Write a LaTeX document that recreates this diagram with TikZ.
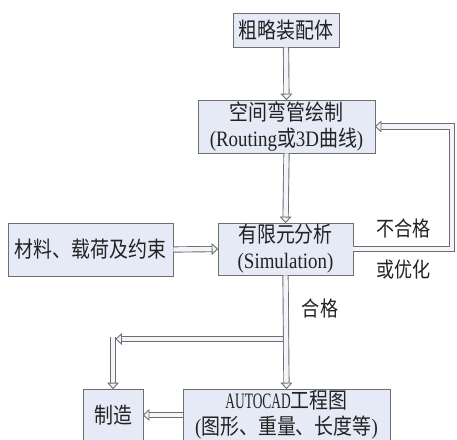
\documentclass[tikz,border=0pt]{standalone}
\usepackage{fontspec}
\setmainfont[FakeStretch=0.86]{Liberation Serif}
\newfontfamily\cjk[FakeStretch=0.86]{Noto Sans CJK SC}
\usetikzlibrary{calc}
\definecolor{boxfill}{HTML}{E6EAF7}
\definecolor{boxline}{HTML}{6E6E6E}
\definecolor{arrfill}{HTML}{F3F5FB}
\definecolor{txt}{HTML}{222222}
\tikzset{
  box/.style={draw=boxline, fill=boxfill, line width=0.9pt, text=txt,
    font=\fontsize{22}{26}\selectfont, align=center, inner sep=0pt},
  shaft/.style={draw=boxline, line width=0.9pt, double=arrfill,
    double distance=4.4pt, line join=miter, shorten >=5pt},
  headst/.style={draw=boxline, fill=arrfill, line width=0.9pt, line join=miter},
  lab/.style={text=txt, font=\fontsize{21}{24}\selectfont\cjk, inner sep=0pt}
}
\newcommand\hhead[2]{%
  \coordinate (hb) at ($(#1)!5.5pt!(#2)$);
  \draw[headst] (#1) -- ($(hb)!5pt!90:(#1)$) -- ($(hb)!5pt!-90:(#1)$) -- cycle;}
\begin{document}
\begin{tikzpicture}[x=1pt,y=-1pt]
\useasboundingbox (0,0) rectangle (457,439);
\clip (0,0) rectangle (457,439);
\fill[white] (0,0) rectangle (457,439);

% boxes
\node[box, minimum width=106pt, minimum height=34pt] (b1) at (286,30) {\cjk 粗略装配体};
\node[box, minimum width=177pt, minimum height=53pt] (b2) at (286.5,126.5)
  {{\cjk 空间弯管绘制}\\(Routing{\cjk 或}3D{\cjk 曲线})};
\node[box, minimum width=135pt, minimum height=52pt] (b3) at (285.5,249)
  {{\cjk 有限元分析}\\(Simulation)};
\node[box, minimum width=165pt, minimum height=53pt] (b4) at (90.5,249.5)
  {\cjk 材料、载荷及约束};
\node[box, minimum width=207pt, minimum height=52pt] (b5) at (286.5,415)
  {\scalebox{0.71}[1]{AUTOCAD}{\cjk 工程图}\\({\cjk 图形、重量、长度等})};
\node[box, minimum width=60pt, minimum height=52pt] (b6) at (113,415) {\cjk 制造};

% labels
\node[lab] (l1) at (403.5,228) {不合格};
\node[lab] (l2) at (403.5,270) {或优化};
\node[lab] (l3) at (320,308) {合格};

% helper coordinates
\coordinate (fx) at (452,0);
\coordinate (yb) at (0,339);
\coordinate (c1) at (113,339);
\coordinate (c1t) at (116,339);
\coordinate (c1s) at (113,337);

% b1 -> b2
\draw[shaft] (b1.south) -- (b2.north);
\hhead{b2.north}{b1.south}
% b2 -> b3
\draw[shaft] (b2.south) -- (b3.north);
\hhead{b3.north}{b2.south}
% feedback b3 -> b2
\draw[shaft] (b3.east) -- (b3.east -| fx) -- (b2.east -| fx) -- (b2.east);
\hhead{b2.east}{b2.east -| fx}
% b4 -> b3
\draw[shaft] (b4.east) -- (b3.west);
\hhead{b3.west}{b4.east}
% branch to manufacturing
\draw[shaft] (b3.south |- yb) -- (c1t);
\draw[shaft] (c1s) -- (b6.north);
\hhead{b6.north}{c1}
\hhead{c1t}{b3.south |- yb}
% b3 -> b5
\draw[shaft] (b3.south) -- (b5.north);
\hhead{b5.north}{b3.south}
% b5 -> b6
\draw[shaft] (b5.west) -- (b6.east);
\hhead{b6.east}{b5.west}
\end{tikzpicture}
\end{document}
